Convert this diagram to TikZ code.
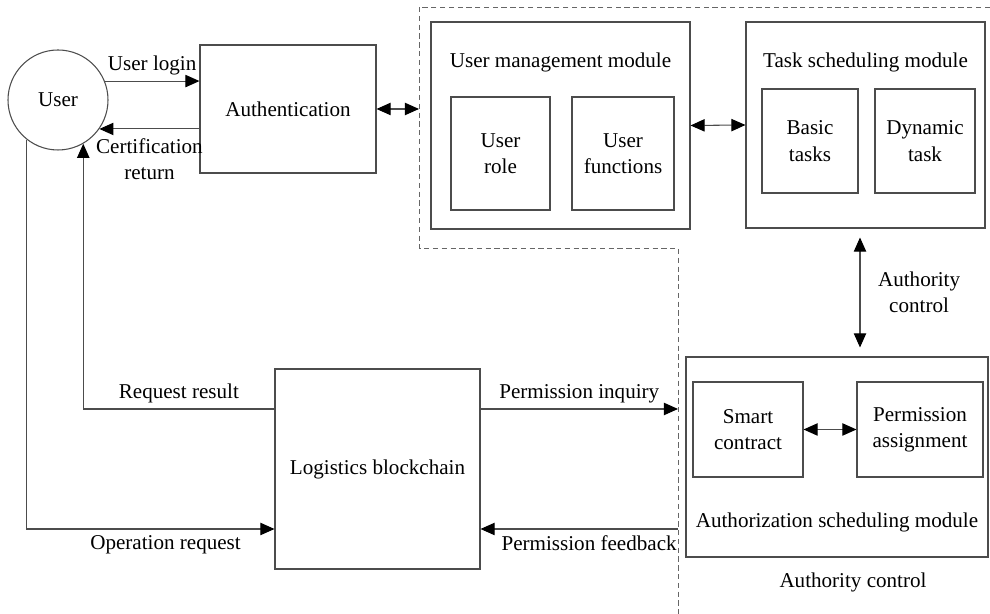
\documentclass[tikz,border=0pt]{standalone}
\usepackage{fontspec}
\setmainfont{Liberation Serif}
\usetikzlibrary{arrows.meta,calc,positioning}

\begin{document}
\begin{tikzpicture}[
    font=\fontsize{12}{15}\selectfont,
    line width=0.6pt,
    blk/.style={draw=black!70, rectangle, align=center, inner sep=0pt},
    arr/.style={draw=black!70, -{Triangle[length=8pt,width=7pt,color=black]}},
    darr/.style={draw=black!70, {Triangle[length=8pt,width=7pt,color=black]}-{Triangle[length=8pt,width=7pt,color=black]}},
    lbl/.style={align=center, inner sep=2pt}]
    \useasboundingbox (0,0) rectangle (19.8,12.28);

    % user side
    \node[draw=black!70, circle, minimum size=2cm, inner sep=0pt] (user) at (1.16,10.28) {User};
    \node[blk, minimum width=3.52cm, minimum height=2.56cm] (auth) at (5.76,10.10) {Authentication};
    \node[blk, minimum width=4.1cm, minimum height=4cm] (chain) at (7.55,2.90) {Logistics blockchain};

    % dashed boundary round the modules
    \coordinate (dtr) at (19.8,12.14);
    \coordinate (dtl) at (8.38,12.14);
    \coordinate (dbl) at (8.38,7.32);
    \coordinate (dbm) at (13.56,7.32);
    \coordinate (dbr) at (13.56,0);
    \draw[black!60, line width=0.5pt, dash pattern=on 3pt off 2pt] (dtr) -- (dtl) -- (dbl) -- (dbm) -- (dbr);

    % user management
    \node[blk, minimum width=5.18cm, minimum height=4.14cm] (umm) at (11.21,9.77) {};
    \node[lbl] (ummt) at ($(umm.north)+(0,-0.82)$) {User management module};
    \node[blk, minimum width=1.98cm, minimum height=2.26cm] (role) at (10.01,9.21) {User\\role};
    \node[blk, minimum width=2.04cm, minimum height=2.26cm] (func) at (12.46,9.21) {User\\functions};

    % task scheduling
    \node[blk, minimum width=4.78cm, minimum height=4.12cm] (tsm) at (17.31,9.78) {};
    \node[lbl] (tsmt) at ($(tsm.north)+(0,-0.82)$) {Task scheduling module};
    \node[blk, minimum width=1.92cm, minimum height=2.08cm] (basic) at (16.2,9.46) {Basic\\tasks};
    \node[blk, minimum width=2.0cm, minimum height=2.08cm] (dyn) at (18.5,9.46) {Dynamic\\task};

    % authorization scheduling
    \node[blk, minimum width=6.04cm, minimum height=4cm] (asm) at (16.74,3.14) {};
    \node[lbl] (asmt) at ($(asm.south)+(0,0.70)$) {Authorization scheduling module};
    \node[blk, minimum width=2.2cm, minimum height=1.9cm] (smart) at (14.96,3.69) {Smart\\contract};
    \node[blk, minimum width=2.52cm, minimum height=1.9cm] (perm) at (18.4,3.69) {Permission\\assignment};
    \node[lbl] (asmc) at (17.06,0.64) {Authority control};

    % login and certification
    \draw[arr] (user.22) -- (user.22 -| auth.west) node[midway, above] {User login};
    \draw[arr] (user.-35 -| auth.west) -- (user.-35) node[midway, below=3pt, lbl] {Certification\\return};

    % links between modules
    \draw[darr] (auth.east) -- (auth.east -| dtl);
    \draw[darr] (umm.east) -- (tsm.west);
    \draw[darr] (smart) -- (perm);
    \coordinate (ac) at (17.2,0);
    \draw[darr, shorten <=0.18cm, shorten >=0.18cm] (tsm.south -| ac) -- (asm.north -| ac)
        node[midway, right=8pt, lbl] {Authority\\control};

    % blockchain requests
    \coordinate (rres) at ($(chain.west)+(0,1.2)$);
    \coordinate (oreq) at ($(chain.west)+(0,-1.2)$);
    \coordinate (pinq) at ($(chain.east)+(0,1.2)$);
    \coordinate (pfed) at ($(chain.east)+(0,-1.2)$);
    \draw[arr] (rres) -| (user.-60) node[pos=0.25, above] {Request result};
    \draw[arr] (user.-128) |- (oreq) node[pos=0.78, below] {Operation request};
    \draw[arr] (pinq) -- (pinq -| dbr) node[midway, above] {Permission inquiry};
    \draw[arr] (pfed -| dbr) -- (pfed) node[pos=0.45, below] {Permission feedback};
\end{tikzpicture}
\end{document}
